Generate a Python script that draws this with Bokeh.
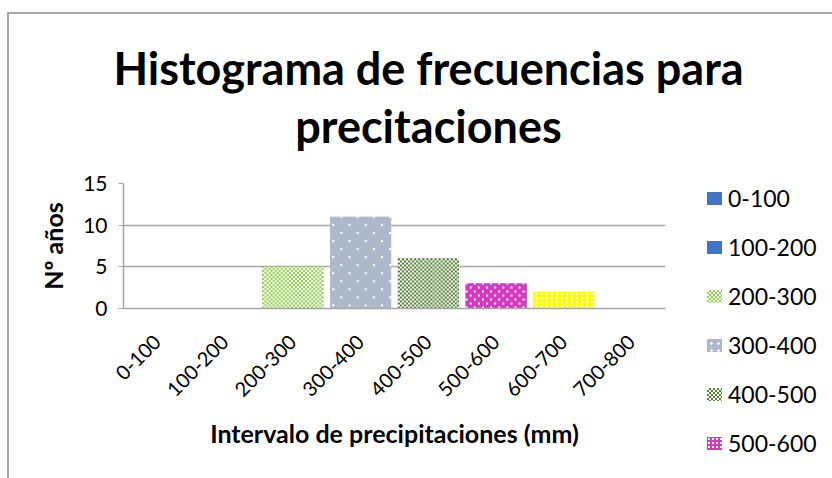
import math

import numpy as np
from bokeh.embed import file_html
from bokeh.layouts import column, row
from bokeh.models import Div, FactorRange, FixedTicker, Label, Range1d
from bokeh.plotting import figure
from bokeh.resources import INLINE

# Frequency table: years per precipitation interval (mm)
intervals = ["0-100", "100-200", "200-300", "300-400", "400-500", "500-600", "600-700", "700-800"]
years = [0, 0, 5, 11, 6, 3, 2, 0]
y_ticks = [0, 5, 10, 15]

# Per-interval bar look: base colour and the fill pattern drawn in white over it
bar_colors = ["#4472C4", "#4472C4", "#92D050", "#ADB9CA", "#548235", "#D43ABD", "#FFFF00", "#4472C4"]
bar_patterns = [None, None, "checker", "sparse_dots", "checker", "dense_dots", "grid", None]
legend_count = 6

title_lines = ["Histograma de frecuencias para", "precitaciones"]

FONT = "Lato"
EDGE = "#A6A6A6"
Y_MAX = 15
BAR_WIDTH = 0.9

# Page split: title strip on top, chart + legend strip below
PAGE_W, PAGE_H = 832, 478
TITLE_H = 163
CHART_W = 686
LOWER_H = PAGE_H - TITLE_H
BORDER_L, BORDER_R, BORDER_T, BORDER_B = 123, 21, 20, 170


def hex_rgb(c):
    c = c.lstrip("#")
    return [int(c[i:i + 2], 16) for i in (0, 2, 4)]


def pattern_image(kind, color, w, h):
    """RGBA texture (w x h pixels) of a base colour with a white pattern."""
    rgba = np.zeros((h, w, 4), dtype=np.uint8)
    rgba[..., :3] = hex_rgb(color)
    rgba[..., 3] = 255
    yy, xx = np.mgrid[0:h, 0:w]
    if kind == "checker":
        mask = ((yy // 2 + xx // 2) % 2) == 1
    elif kind == "sparse_dots":
        mx, my = xx % 16, yy % 16
        mask = ((mx // 2 == 1) & (my // 2 == 1)) | ((mx // 2 == 5) & (my // 2 == 5))
    elif kind == "dense_dots":
        mx, my = xx % 8, yy % 8
        mask = ((mx // 2 == 0) & (my // 2 == 0)) | ((mx // 2 == 2) & (my // 2 == 2))
    else:  # grid
        mx, my = xx % 5, yy % 4
        mask = (mx >= 2) & (mx <= 3) & (my >= 1) & (my <= 2)
    rgba[mask, :3] = 255
    return rgba.view(np.uint32).reshape(h, w)


def swatch_css(kind, color):
    """CSS background for a legend key, echoing the bar's pattern."""
    if kind == "checker":
        return f"repeating-conic-gradient({color} 0% 25%, white 0% 50%) 0 0 / 4px 4px"
    if kind == "sparse_dots":
        return f"radial-gradient(circle, white 0 1px, transparent 1.5px) 1px 1px / 7px 7px, {color}"
    if kind == "dense_dots":
        return f"radial-gradient(circle, white 0 1px, transparent 1.5px) 0 0 / 4px 4px, {color}"
    return color


# ---- title strip ----
head = figure(width=PAGE_W, height=TITLE_H, x_range=Range1d(0, 1), y_range=Range1d(0, 1),
              x_axis_location=None, y_axis_location=None,
              min_border=0, output_backend="svg", toolbar_location=None)
head.grid.visible = False
head.outline_line_color = None
head.background_fill_alpha = 0
head.border_fill_alpha = 0
for text, baseline in zip(title_lines, (67, 125)):
    head.add_layout(Label(x=428, y=baseline, x_units="canvas", y_units="canvas", text=text,
                          text_align="center", text_baseline="alphabetic",
                          text_font=FONT, text_font_style="bold",
                          text_font_size="45px", text_color="black"))

# ---- chart ----
p = figure(
    x_range=FactorRange(*intervals),
    y_range=Range1d(0, Y_MAX),
    width=CHART_W, height=LOWER_H,
    min_border_left=BORDER_L, min_border_right=BORDER_R,
    min_border_top=BORDER_T, min_border_bottom=BORDER_B,
    output_backend="svg", toolbar_location=None,
)
p.outline_line_color = None
p.background_fill_color = "white"
p.border_fill_alpha = 0

frame_w = CHART_W - BORDER_L - BORDER_R
frame_h = LOWER_H - BORDER_T - BORDER_B
px_x = frame_w / len(intervals)
px_y = frame_h / Y_MAX

for name, count, color, kind in zip(intervals, years, bar_colors, bar_patterns):
    p.vbar(x=[name], top=[count], width=BAR_WIDTH, fill_color=color, line_color=None)
    if kind and count > 0:
        img = pattern_image(kind, color, int(round(BAR_WIDTH * px_x)), int(round(count * px_y)))
        p.image_rgba(image=[img], x=[name], y=[0], dw=[BAR_WIDTH], dh=[count],
                     anchor="bottom_center")

p.yaxis.ticker = FixedTicker(ticks=y_ticks)
p.yaxis.axis_label = "Nº años"
p.xaxis.axis_label = "Intervalo de precipitaciones (mm)"
for ax in (p.xaxis, p.yaxis):
    ax.axis_line_color = EDGE
    ax.axis_line_width = 1.5
    ax.major_tick_line_color = EDGE
    ax.minor_tick_line_color = None
    ax.major_tick_in = 0
    ax.major_label_text_font = FONT
    ax.major_label_text_color = "black"
    ax.axis_label_text_font = FONT
    ax.axis_label_text_font_size = "25px"
    ax.axis_label_text_font_style = "bold"
    ax.axis_label_text_color = "black"
p.yaxis.major_label_text_font_size = "21px"
p.xaxis.major_label_text_font_size = "20px"
p.yaxis.major_tick_out = 5
p.yaxis.major_label_standoff = 11
p.yaxis.axis_label_standoff = 12
p.xaxis.major_tick_out = 0
p.xaxis.major_label_orientation = math.pi / 4
p.xaxis.major_label_standoff = 30
p.xaxis.axis_label_standoff = 12

p.xgrid.grid_line_color = None
p.ygrid.grid_line_color = EDGE
p.ygrid.grid_line_width = 1.5

# ---- legend strip (only the first entries fit inside the chart area) ----
entries = []
for name, color, kind in list(zip(intervals, bar_colors, bar_patterns))[:legend_count]:
    entries.append(
        '<div style="display:flex;align-items:center;height:28px;margin-bottom:21px;'
        'white-space:nowrap;">'
        f'<span style="display:inline-block;width:15px;height:13px;margin-right:6px;'
        f'background:{swatch_css(kind, color)};"></span>{name}</div>'
    )
legend_html = (
    f'<div style="padding:21px 0 0 21px;font-family:{FONT};font-size:23px;'
    f'color:black;line-height:28px;">' + "".join(entries) + "</div>"
)
legend_box = Div(text=legend_html, width=PAGE_W - CHART_W, height=LOWER_H, margin=0)

# Page with the chart-area outline (left and top edges) behind the figures
page = column(
    head, row(p, legend_box),
    styles={
        "background-color": "white",
        "background-image": f"linear-gradient({EDGE}, {EDGE}), linear-gradient({EDGE}, {EDGE})",
        "background-size": "2px 100%, 100% 2px",
        "background-position": "7px 12px, 7px 12px",
        "background-repeat": "no-repeat",
    },
)

open("out.html", "w").write(file_html(page, INLINE))
